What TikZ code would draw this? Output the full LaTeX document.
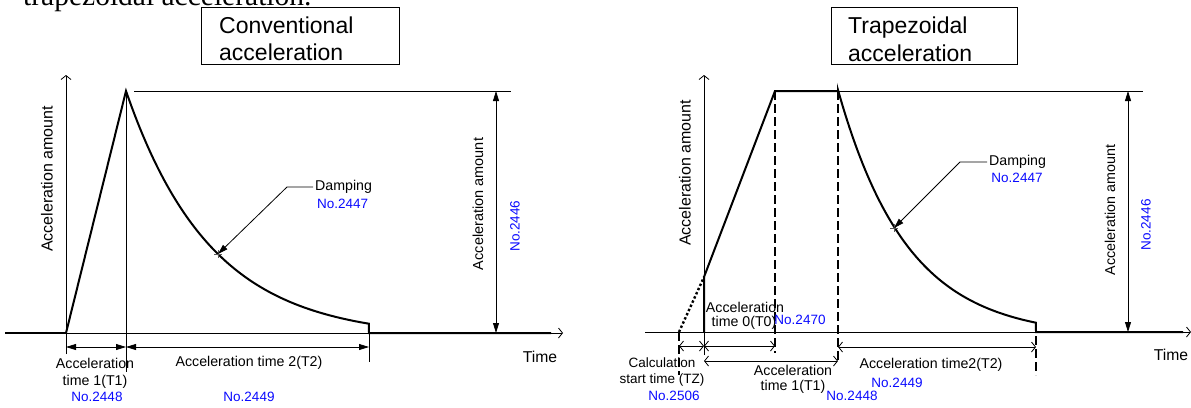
\documentclass[tikz,border=0pt]{standalone}
\usepackage{fontspec}
\setmainfont{Liberation Sans}
\newfontfamily\serifface{Liberation Serif}
\usetikzlibrary{arrows.meta,calc}

\definecolor{refblue}{RGB}{10,10,255}

\begin{document}
\begin{tikzpicture}[x=1pt,y=-1pt,
  fine/.style={line width=0.8pt},
  profile/.style={line width=2pt,line join=miter},
  dashedguide/.style={line width=2.2pt,dash pattern=on 9pt off 4pt},
  dottedguide/.style={line width=2.4pt,dash pattern=on 2.4pt off 2.2pt},
  axis/.style={fine,-{Straight Barb[length=4pt,width=10pt]}},
  dimfilled/.style={fine,{Triangle[length=10pt,width=6pt]}-{Triangle[length=10pt,width=6pt]}},
  dimopen/.style={fine,{Straight Barb[length=4pt,width=10pt]}-{Straight Barb[length=4pt,width=10pt]}},
  leader/.style={fine,-{Triangle[length=10pt,width=6pt]}},
  lbl/.style={inner sep=0pt,font=\fontsize{14.2}{16}\selectfont},
  num/.style={inner sep=0pt,text=refblue,font=\fontsize{13.5}{15}\selectfont},
  axislbl/.style={inner sep=0pt,rotate=90,font=\fontsize{16}{18}\selectfont},
  title/.style={inner sep=0pt,anchor=base west,font=\fontsize{23}{27}\selectfont},
  framebox/.style={draw,line width=1pt,inner sep=0pt,anchor=north west}
]
\useasboundingbox (0,0) rectangle (1191,407);

% running heading of the page, cut by the top edge
\begin{scope}
  \clip (0,0) rectangle (1191,407);
  \node (heading) [inner sep=0pt,anchor=base west,font=\serifface\fontsize{29.5}{31}\selectfont] at (23,5) {trapezoidal acceleration.};
\end{scope}

% ================= conventional acceleration =================
\node (box1) [framebox,minimum width=198pt,minimum height=57pt] at (201,7) {};
\node (t1a) [title] at (219,33) {Conventional};
\node (t1b) [title] at (219,60) {acceleration};

\coordinate (A0) at (66,333);
\coordinate (Aleft) at (5,333);
\coordinate (Aend) at (563,333);
\coordinate (Atop) at (66,75);
\coordinate (Abot) at (66,354);
\coordinate (Apk) at (126,91);
\coordinate (Apkbot) at (126,372);
\coordinate (Ac) at (369,324);
\coordinate (Ab) at (369,333);
\coordinate (Acbot) at (369,362);
\coordinate (Aflat) at (551,333);
\coordinate (Arefl) at (134,91);
\coordinate (Arefr) at (511,91);
\coordinate (Adimt) at (496,91);
\coordinate (Adimb) at (496,333);
\coordinate (Ad1) at (66,347);
\coordinate (Ad2) at (126,347);
\coordinate (Ad3) at (369,347);
\coordinate (Amark) at (218,254);
\coordinate (Aknee) at (287,187);
\coordinate (Alead) at (313,187);

% axes and guide lines
\draw[axis] (Aleft) -- (Aend);
\draw[axis] (Abot) -- (Atop);
\draw[fine] (Apk) -- (Apkbot);
\draw[fine] (Ac) -- (Acbot);
\draw[fine] (Arefl) -- (Arefr);

% acceleration profile
\draw[profile] (Aleft) -- (A0);
\draw[profile] (A0) -- (Apk)
  -- plot[domain=0:1,samples=90] ({126+243*\x},{333-(247*exp(-2.85*\x)-5)})
  -- (Ab) -- (Aflat);

% dimensions
\draw[dimfilled] (Adimt) -- (Adimb);
\draw[dimfilled] (Ad1) -- (Ad2);
\draw[dimfilled] (Ad2) -- (Ad3);

% damping leader
\draw[fine,gray!70!black] ($(Amark)+(-4,0)$) -- ($(Amark)+(4,0)$) ($(Amark)+(0,-4)$) -- ($(Amark)+(0,4)$);
\draw[leader] (Alead) -- (Aknee) -- (Amark);

% labels
\node (Ay) [axislbl] at (47,179) {Acceleration amount};
\node (Adl) [axislbl,font=\fontsize{14.5}{16}\selectfont] at (478,204) {Acceleration amount};
\node (Adn) [num,rotate=90] at (515,226) {No.2446};
\node (Adamp) [lbl,anchor=west] at (315,187) {Damping};
\node (Adampn) [num,anchor=west] at (317,204) {No.2447};
\node (Atime) [lbl,font=\fontsize{15.7}{18}\selectfont] at (540,357) {Time};
\node (At1a) [lbl] at (95,363) {Acceleration};
\node (At1b) [lbl] at (95,382) {time 1(T1)};
\node (At1n) [num] at (97,397) {No.2448};
\node (At2a) [lbl] at (249,363) {Acceleration time 2(T2)};
\node (At2n) [num] at (249,397) {No.2449};

% ================= trapezoidal acceleration =================
\node (box2) [framebox,minimum width=186pt,minimum height=57pt] at (831,7) {};
\node (t2a) [title] at (848,33) {Trapezoidal};
\node (t2b) [title] at (848,61) {acceleration};

\coordinate (B0) at (704,332);
\coordinate (Bleft) at (645,332);
\coordinate (Bend) at (1191,332);
\coordinate (Btop) at (704,75);
\coordinate (Bbot) at (704,355);
\coordinate (Bz) at (679,332);
\coordinate (Bzbot) at (679,375);
\coordinate (Bs) at (704,277);
\coordinate (Bp1) at (775,91);
\coordinate (Bp1bot) at (775,353);
\coordinate (Bp2) at (838,91);
\coordinate (Bp2bot) at (838,363);
\coordinate (Bc) at (1036,323);
\coordinate (Bb) at (1036,332);
\coordinate (Bcbot) at (1036,375);
\coordinate (Bflat) at (1183,332);
\coordinate (Brefr) at (1143,91);
\coordinate (Bdimt) at (1128,91);
\coordinate (Bdimb) at (1128,332);
\coordinate (Bd0) at (679,346);
\coordinate (Bd1) at (704,346);
\coordinate (Bd2) at (775,346);
\coordinate (Be1) at (704,361);
\coordinate (Be2) at (838,361);
\coordinate (Bf1) at (838,347);
\coordinate (Bf2) at (1036,347);
\coordinate (Bmark) at (894,228);
\coordinate (Bknee) at (960,162);
\coordinate (Blead) at (987,162);

% axes and guide lines
\draw[axis] (Bleft) -- (Bend);
\draw[axis] (Bbot) -- (Btop);
\draw[fine] (Bp2) -- (Brefr);
\draw[dashedguide] (Bp1) -- (Bp1bot);
\draw[dashedguide] (Bp2) -- (Bp2bot);
\draw[dashedguide] (Bz) -- (Bzbot);
\draw[dashedguide] (Bc) -- (Bcbot);

% acceleration profile
\draw[dottedguide] (Bz) -- (Bs);
\draw[profile] (B0) -- (Bs) -- (Bp1) -- (Bp2)
  -- plot[domain=0:1,samples=90] ({838+198*\x},{332-(247*exp(-2.85*\x)-5)})
  -- (Bb) -- (Bflat);

% dimensions
\draw[dimfilled] (Bdimt) -- (Bdimb);
\draw[dimopen] (Bd0) -- (Bd1);
\draw[dimopen] (Bd1) -- (Bd2);
\draw[dimopen] (Be1) -- (Be2);
\draw[dimopen] (Bf1) -- (Bf2);

% damping leader
\draw[fine,gray!70!black] ($(Bmark)+(-4,0)$) -- ($(Bmark)+(4,0)$) ($(Bmark)+(0,-4)$) -- ($(Bmark)+(0,4)$);
\draw[leader] (Blead) -- (Bknee) -- (Bmark);

% labels
\node (By) [axislbl] at (685,173) {Acceleration amount};
\node (Bdl) [axislbl,font=\fontsize{14.3}{16}\selectfont] at (1110,210) {Acceleration amount};
\node (Bdn) [num,rotate=90] at (1146,225) {No.2446};
\node (Bdamp) [lbl,anchor=west] at (989,162) {Damping};
\node (Bdampn) [num] at (1017,178) {No.2447};
\node (Btime) [lbl,font=\fontsize{15.7}{18}\selectfont] at (1171,355) {Time};
\node (Bt0a) [lbl] at (745,307) {Acceleration};
\node (Bt0b) [lbl] at (744,323) {time 0(T0)};
\node (Bt0n) [num] at (800,320) {No.2470};
\node (Btza) [lbl,font=\fontsize{13.5}{15}\selectfont] at (662,363) {Calculation};
\node (Btzb) [lbl,font=\fontsize{13.5}{15}\selectfont] at (662,380) {start time (TZ)};
\node (Btzn) [num] at (674,396) {No.2506};
\node (Bt1a) [lbl] at (793,370) {Acceleration};
\node (Bt1b) [lbl] at (793,387) {time 1(T1)};
\node (Bt1n) [num] at (852,396) {No.2448};
\node (Bt2a) [lbl] at (931,365) {Acceleration time2(T2)};
\node (Bt2n) [num] at (897,383) {No.2449};
\end{tikzpicture}
\end{document}
